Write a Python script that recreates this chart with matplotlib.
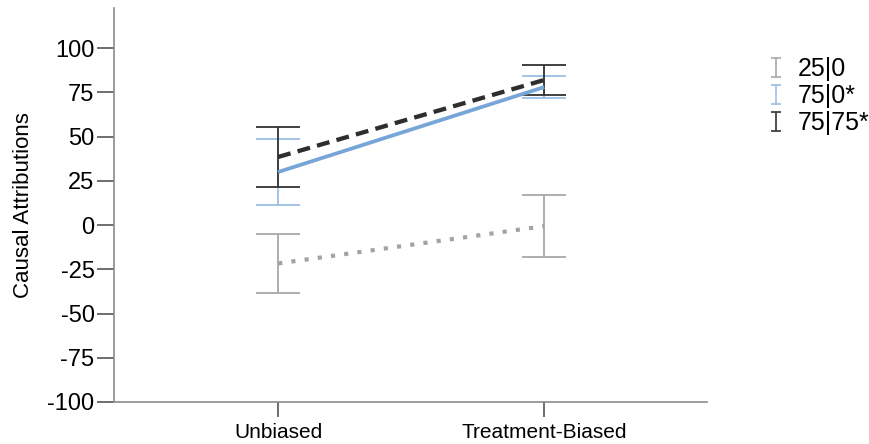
import numpy as np
import matplotlib
matplotlib.use("Agg")
import matplotlib.pyplot as plt
from matplotlib.legend_handler import HandlerErrorbar

plt.rcParams['font.family'] = ['Liberation Sans', 'DejaVu Sans']

# Conditions on the x axis and the three groups
conditions = ["Unbiased", "Treatment-Biased"]
groups = ["25|0", "75|0*", "75|75*"]

# Group means and error half-widths for each condition
means_25_0 = [-21.7, -0.6]
err_25_0 = [16.6, 17.5]
means_75_0 = [30.0, 78.0]
err_75_0 = [18.6, 6.2]
means_75_75 = [38.5, 82.0]
err_75_75 = [17.2, 8.5]

y_ticks = [100, 75, 50, 25, 0, -25, -50, -75, -100]

styles = [
    dict(means=means_25_0, err=err_25_0, line="#a3a3a3", bar="#a8a8a8",
         ls=(0, (1.0, 2.2)), lw=3.0),
    dict(means=means_75_0, err=err_75_0, line="#78a5d8", bar="#9cbfe6",
         ls="-", lw=2.7),
    dict(means=means_75_75, err=err_75_75, line="#2e2e2e", bar="#333333",
         ls=(0, (3.0, 1.7)), lw=3.1),
]

fig = plt.figure(figsize=(8.7, 4.44), dpi=100)
ax = fig.add_axes([0.131, 0.0946, 0.682, 0.887])

x = np.arange(len(conditions))

handles = []
for st, name in zip(styles, groups):
    ax.errorbar(x, st["means"], yerr=st["err"], fmt="none",
                ecolor=st["bar"], elinewidth=1.3, capsize=16,
                capthick=1.3, zorder=2)
    ax.plot(x, st["means"], color=st["line"], linestyle=st["ls"],
            linewidth=st["lw"], solid_capstyle="butt",
            dash_capstyle="butt", zorder=3)
    proxy = ax.errorbar([np.nan], [np.nan], yerr=[1], fmt="none",
                        ecolor=st["bar"], elinewidth=1.2, capsize=3.5,
                        capthick=1.2, label=name)
    handles.append(proxy)

ax.set_xlim(-0.617, 1.613)
ax.set_ylim(-100, 122.6)
ax.set_xticks(x)
ax.set_xticklabels(conditions, fontsize=15)
ax.set_yticks(y_ticks)
ax.set_yticklabels([str(t) for t in y_ticks], fontsize=17)
ax.set_ylabel("Causal Attributions", fontsize=16, labelpad=10)

for side in ("top", "right"):
    ax.spines[side].set_visible(False)
for side in ("left", "bottom"):
    ax.spines[side].set_color("#8c8c8c")
    ax.spines[side].set_linewidth(1.2)
ax.tick_params(axis="y", length=12, width=1.2, color="#555555", pad=2)
ax.tick_params(axis="x", length=11, width=1.2, color="#555555", pad=4)

fig.legend(handles=handles, labels=groups, loc="upper left",
           bbox_to_anchor=(0.885, 0.872), frameon=False, fontsize=18,
           handlelength=0.5, handletextpad=0.6, labelspacing=0.12,
           borderaxespad=0, borderpad=0,
           handler_map={type(handles[0]): HandlerErrorbar(yerr_size=0.38)})

fig.savefig("out.png", dpi=100)
